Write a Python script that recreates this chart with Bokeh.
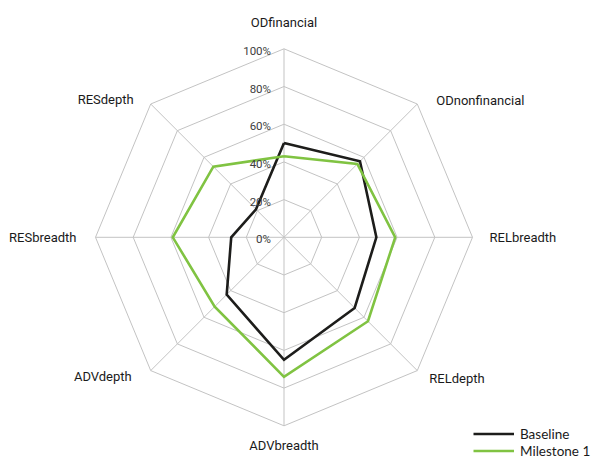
import numpy as np
from bokeh.plotting import figure
from bokeh.models import Range1d, Legend, LegendItem, ColumnDataSource
from bokeh.embed import file_html
from bokeh.resources import INLINE
from bokeh.core.properties import value

# ---- data ----
categories = ["ODfinancial", "ODnonfinancial", "RELbreadth", "RELdepth",
              "ADVbreadth", "ADVdepth", "RESbreadth", "RESdepth"]
baseline = [50, 57, 49, 53, 65, 43, 28, 21]
milestone1 = [43, 55, 59, 63, 74, 52, 59, 53]
series_names = ["Baseline", "Milestone 1"]
ring_levels = [0, 20, 40, 60, 80, 100]
tick_labels = ["0%", "20%", "40%", "60%", "80%", "100%"]

# ---- layout ----
R = 188.5                     # pixels for 100%
W, H = 612, 465
cx, cy = 283.5, 236.8         # centre in canvas pixels (from left / top)

p = figure(width=W, height=H, output_backend="svg", toolbar_location=None,
           x_range=Range1d(-cx / R, (W - cx) / R),
           y_range=Range1d(-(H - cy) / R, cy / R),
           x_axis_location=None, y_axis_location=None,
           min_border=0, outline_line_color=None)
p.grid.visible = False
p.background_fill_color = "white"

n = len(categories)
ang = np.pi / 2 - np.arange(n) * 2 * np.pi / n
ux, uy = np.cos(ang), np.sin(ang)

grid_color = "#c3c3c3"
# rings
for lev in ring_levels[1:]:
    r = lev / 100.0
    p.line(list(np.append(ux, ux[0]) * r), list(np.append(uy, uy[0]) * r),
           line_color=grid_color, line_width=1)
# spokes
p.segment(x0=[0] * n, y0=[0] * n, x1=list(ux), y1=list(uy),
          line_color=grid_color, line_width=1)

# series
def closed(vals):
    v = np.array(vals) / 100.0
    xs = v * ux
    ys = v * uy
    return list(np.append(xs, xs[0])), list(np.append(ys, ys[0]))

bx, by = closed(baseline)
mx, my = closed(milestone1)
r_base = p.line(bx, by, line_color="#1d1d1b", line_width=2.6, line_join="miter")
r_mile = p.line(mx, my, line_color="#80c342", line_width=2.6, line_join="miter")

label_font = "Roboto"

# tick labels
p.text(x=[0] * len(ring_levels), y=[l / 100.0 for l in ring_levels],
       text=tick_labels, x_offset=-13, y_offset=2,
       text_align="right", text_baseline="middle",
       text_font=value(label_font), text_font_size="11.5px",
       text_color="#404040")

# category labels
aligns = ["center", "left", "left", "left", "center", "right", "right", "right"]
xoff = [0, 19, 17, 12, 0, -19, -19, -17]
yoff = [-26, -4, 0, 8, 20, 6, 0, -5]
src = ColumnDataSource(dict(x=list(ux), y=list(uy), t=categories,
                            a=aligns, xo=xoff, yo=yoff))
p.text(x="x", y="y", text="t", source=src, text_align="a",
       x_offset="xo", y_offset="yo", text_baseline="middle",
       text_font=value(label_font), text_font_size="13px",
       text_color="#1a1a1a")

legend = Legend(items=[LegendItem(label=series_names[0], renderers=[r_base]),
                       LegendItem(label=series_names[1], renderers=[r_mile])],
                location=(473, 6), orientation="vertical",
                border_line_color=None, background_fill_alpha=0,
                padding=0, margin=0, spacing=0,
                glyph_width=41, glyph_height=17, label_height=17,
                label_standoff=6, label_text_font="Lato",
                label_text_font_size="13.5px", label_text_color="#1a1a1a")
p.add_layout(legend)

open("out.html", "w").write(file_html(p, INLINE))
